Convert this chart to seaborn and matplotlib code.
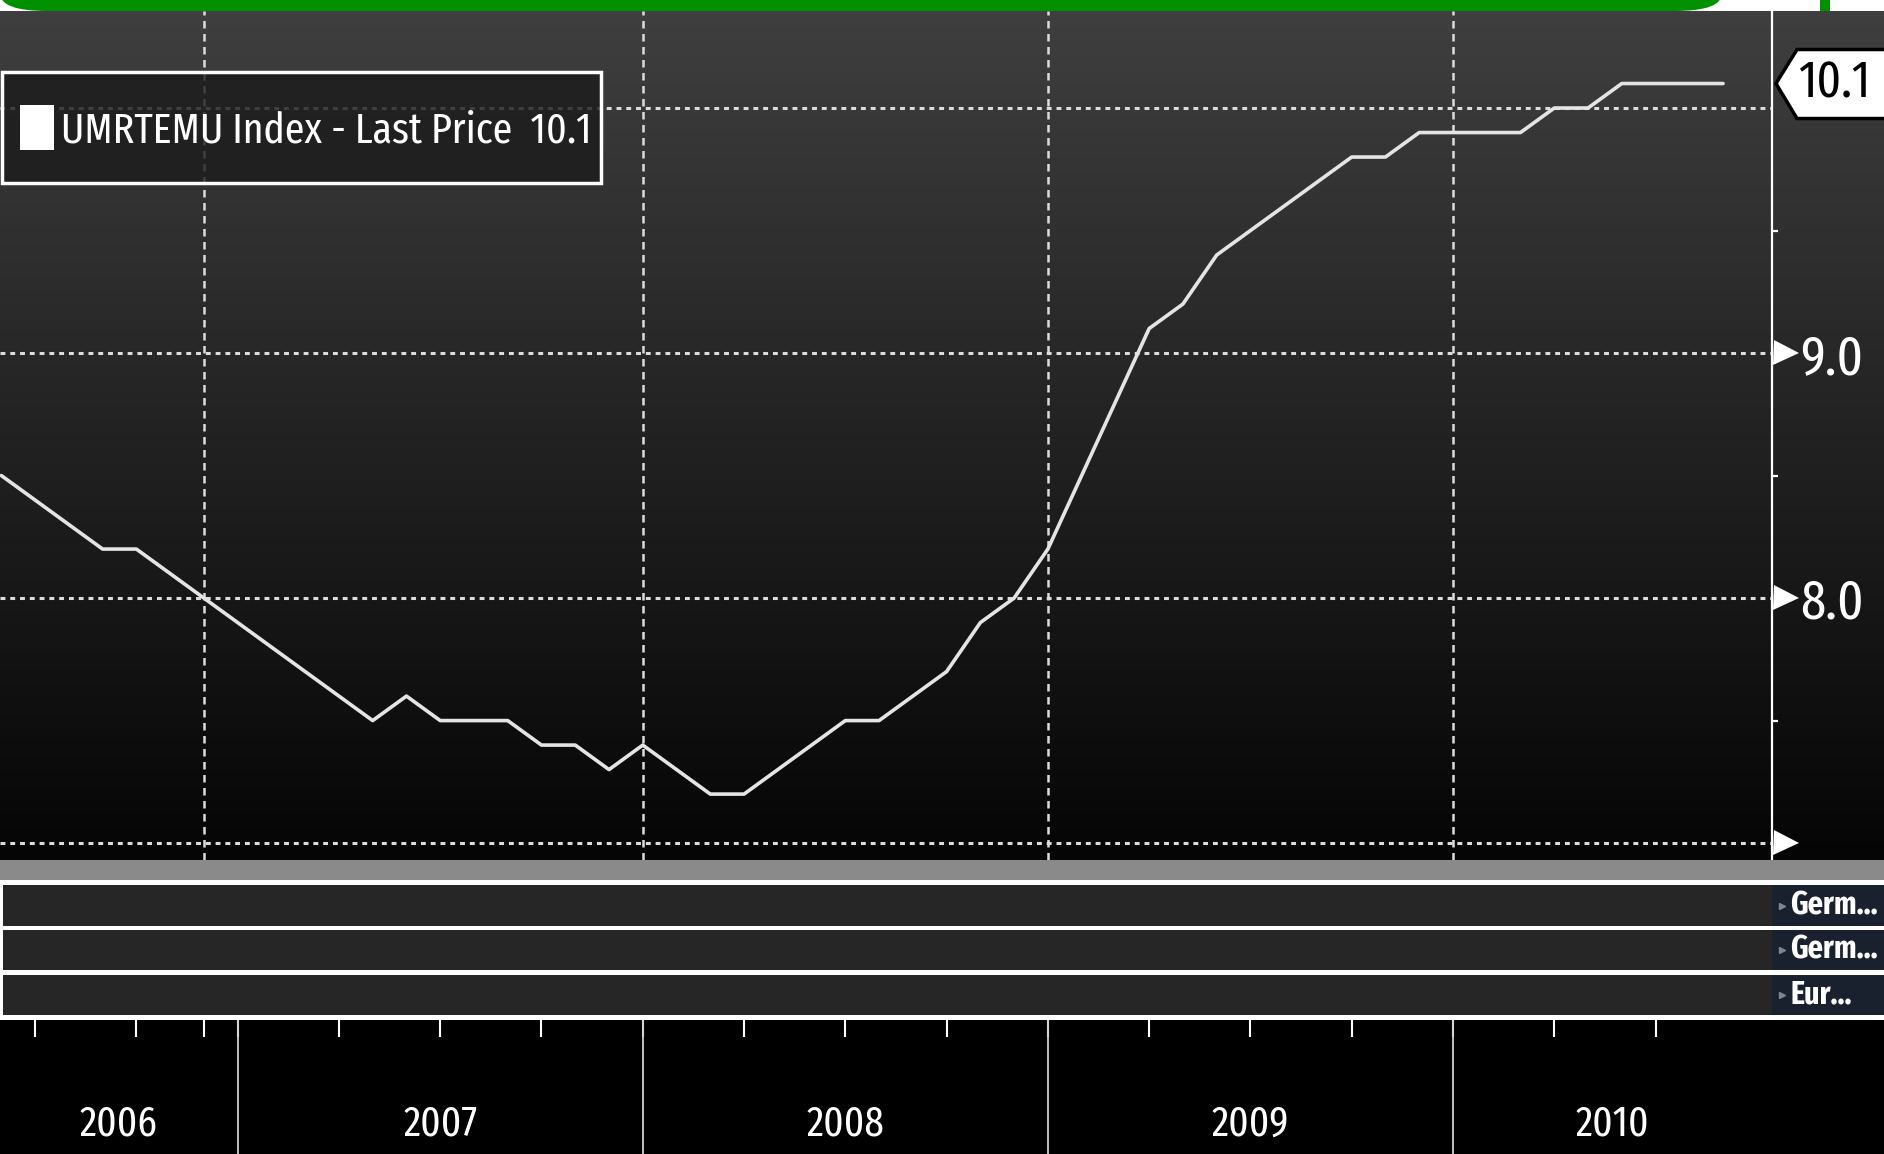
import numpy as np
import pandas as pd
import seaborn as sns
import matplotlib.pyplot as plt
import matplotlib.transforms as mtransforms
from matplotlib import font_manager as fm
from matplotlib.patches import Rectangle, FancyBboxPatch, Polygon, Patch

# monthly euro area unemployment rate (UMRTEMU Index), Jun 2006 - Sep 2010
months = pd.date_range("2006-06", "2010-09", freq="MS").strftime("%Y-%m").tolist()
rate = [8.5, 8.4, 8.3, 8.2, 8.2, 8.1, 8.0,
        7.9, 7.8, 7.7, 7.6, 7.5, 7.6, 7.5, 7.5, 7.5, 7.4, 7.4, 7.3,
        7.4, 7.3, 7.2, 7.2, 7.3, 7.4, 7.5, 7.5, 7.6, 7.7, 7.9, 8.0,
        8.2, 8.5, 8.8, 9.1, 9.2, 9.4, 9.5, 9.6, 9.7, 9.8, 9.8, 9.9,
        9.9, 9.9, 9.9, 10.0, 10.0, 10.1, 10.1, 10.1, 10.1]
years = ["2006", "2007", "2008", "2009", "2010"]
grid_months = ["2006-12", "2008-01", "2009-01", "2010-01"]
y_grid = [7, 8, 9, 10]
y_labels = ["", "8.0", "9.0", ""]
y_minor = [7.5, 8.5, 9.5]
legend_label = "UMRTEMU Index - Last Price  10.1"
panel_labels = ["Germ...", "Germ...", "Eur..."]

W, H = 1884, 1154
sns.set_style("white")
plt.rcParams['font.family'] = ['Liberation Sans', 'DejaVu Sans']

STRETCH = {"ultra-condensed": 50, "extra-condensed": 62, "condensed": 75,
           "semi-condensed": 87, "normal": 100}


# pick the narrowest installed sans face (Bloomberg uses a condensed font)
def narrow_font(bold=False):
    best = None
    for f in fm.fontManager.ttflist:
        if f.style != "normal" or any(k in f.name for k in ("Serif", "Mono", "CJK")):
            continue
        st = f.stretch if isinstance(f.stretch, (int, float)) else STRETCH.get(f.stretch, 100)
        if "Narrow" in f.name:
            st = min(st, 80)
        if "ExtraCondensed" in f.fname:
            st = min(st, 62)
        elif "Condensed" in f.name or "Condensed" in f.fname:
            st = min(st, 75)
        if st >= 100:
            continue
        w = f.weight if isinstance(f.weight, int) else (700 if f.weight == "bold" else 400)
        if (w >= 600) != bold or w < 350:
            continue
        key = (st, abs(w - (700 if bold else 400)))
        if best is None or key < best[0]:
            best = (key, f.fname)
    if best:
        return fm.FontProperties(fname=best[1])
    return fm.FontProperties(family="Liberation Sans", weight="bold" if bold else "normal")


def fp(size, bold=False):
    p = narrow_font(bold).copy()
    p.set_size(size)
    return p


fig = plt.figure(figsize=(W / 100, H / 100), dpi=100, facecolor="black")
renderer = fig.canvas.get_renderer()


def fit(text, width_px, bold=False):
    t = fig.text(0, 0, text, fontproperties=fp(100, bold))
    w = t.get_window_extent(renderer).width
    t.remove()
    return fp(100 * width_px / w, bold)


def px_axes(x0, y0, x1, y1):
    return fig.add_axes([x0 / W, 1 - y1 / H, (x1 - x0) / W, (y1 - y0) / H])


df = pd.DataFrame({"month": months, "rate": rate})
df["idx"] = np.arange(len(df))
xlim = (-0.04, 52.45)
ylim = (6.931, 10.396)

# header strip
fig.patches.append(Rectangle((0, 1 - 11 / H), 1, 11 / H, transform=fig.transFigure,
                             facecolor="white", edgecolor="none"))
fig.patches.append(FancyBboxPatch((0, 1 - 11 / H), 1722 / W, 60 / H,
                                  boxstyle="round,pad=0,rounding_size=0.025",
                                  mutation_aspect=H / W,
                                  transform=fig.transFigure, facecolor="#009000",
                                  edgecolor="none"))
fig.patches.append(Rectangle((1820 / W, 1 - 11 / H), 10 / W, 11 / H, transform=fig.transFigure,
                             facecolor="#009000", edgecolor="none"))

# gradient background
bg = px_axes(0, 11, W, 860)
grad = np.linspace(0x3f, 0x05, 256)[:, None] / 255.0
bg.imshow(np.dstack([grad, grad, grad]), aspect="auto", extent=(0, 1, 0, 1))
bg.set_axis_off()

ax = px_axes(0, 11, 1772, 860)
ax.set_facecolor("none")
sns.lineplot(data=df, x="idx", y="rate", ax=ax, color="#e4e4e4", linewidth=2.6, zorder=5)
ax.set_xlim(*xlim)
ax.set_ylim(*ylim)

for v in y_grid:
    ax.axhline(v, color="#dcdcdc", lw=2.2, linestyle=(0, (1.6, 1.6)), zorder=2)
for m in grid_months:
    ax.axvline(months.index(m), color="#dcdcdc", lw=1.8, linestyle=(0, (3.0, 2.2)), zorder=2)

ax.set_xticks([])
ax.set_xlabel("")
ax.set_ylabel("")
ax.yaxis.tick_right()
ax.set_yticks(y_grid)
ax.set_yticklabels(y_labels, fontproperties=fit("9.0", 63))
ax.set_yticks(y_minor, minor=True)
ax.tick_params(axis="y", which="major", length=0, pad=20, labelcolor="white")
ax.tick_params(axis="y", which="minor", length=4.5, width=1.6, color="white", direction="out")
for s in ["left", "top", "bottom"]:
    ax.spines[s].set_visible(False)
ax.spines["right"].set_color("white")
ax.spines["right"].set_linewidth(1.6)

arrow_tr = mtransforms.blended_transform_factory(ax.transAxes, ax.transData)
ax.plot([1 + 14 / 1772] * 3, y_grid[:3], linestyle="none", marker=">", markersize=18,
        color="white", markeredgewidth=0, transform=arrow_tr, clip_on=False, zorder=6)

# legend: translucent boxed frame with a white swatch
frame = Rectangle((2, H - 183), 599, 111, transform=mtransforms.IdentityTransform(),
                  facecolor=(0.11, 0.11, 0.11, 0.82), edgecolor="white", lw=2.5,
                  clip_on=False, zorder=8)
ax.add_patch(frame)
leg_fp = fit(legend_label, 532)
em = leg_fp.get_size_in_points() * 100 / 72
leg = ax.legend(handles=[Patch(facecolor="white", edgecolor="none")], labels=[legend_label],
                loc="center left", bbox_to_anchor=(20 / W, 1 - 128 / H),
                bbox_transform=fig.transFigure, borderaxespad=0, borderpad=0, frameon=False,
                handlelength=34 / em, handleheight=53 / em, handletextpad=7 / em, prop=leg_fp)
leg.set_zorder(9)
for t in leg.get_texts():
    t.set_color("white")

# last price tag
fig.canvas.draw()
tip_y = ax.transData.transform((0, rate[-1]))[1]
tip_x = 1776
tag = Polygon([(tip_x, tip_y), (1797, tip_y + 34), (W + 5, tip_y + 34), (W + 5, tip_y - 35),
               (1797, tip_y - 35)], closed=True, transform=mtransforms.IdentityTransform(),
              facecolor="white", edgecolor="black", lw=2.5)
fig.patches.append(tag)
fig.text(1798 / W, tip_y / H, f"{rate[-1]:.1f}", color="black", fontproperties=fit("10.1", 72),
         ha="left", va="center")

# study panels
pan = px_axes(0, 860, W, 1022)
pan.set_xlim(0, W)
pan.set_ylim(1022, 860)
pan.set_axis_off()
pan.add_patch(Rectangle((0, 860), W, 20, facecolor="#8a8a8a", edgecolor="none"))
rows = [(885, 926), (930, 970), (975, 1015)]
lab_fp = fit("Germ...", 88, bold=True)
for (r0, r1), lab in zip(rows, panel_labels):
    pan.add_patch(Rectangle((0, r0), 1772, r1 - r0, facecolor="#262626", edgecolor="none"))
    pan.add_patch(Rectangle((1772, r0), W - 1772, r1 - r0, facecolor="#18212d", edgecolor="none"))
    pan.add_patch(Rectangle((0, r0), 3, r1 - r0, facecolor="white", edgecolor="none"))
    pan.plot([1782], [(r0 + r1) / 2], marker=">", markersize=5, color="#7a8796", linestyle="none")
    pan.text(1790, (r0 + r1) / 2, lab, color="white", fontproperties=lab_fp,
             ha="left", va="center")
for y0, y1 in [(880, 885), (926, 930), (970, 975), (1015, 1020)]:
    pan.add_patch(Rectangle((0, y0), W, y1 - y0, facecolor="white", edgecolor="none"))

# time axis
bx = px_axes(0, 1020, 1772, H)
bx.set_facecolor("black")
bx.set_xlim(*xlim)
bx.set_ylim(0, 1)
quarter_idx = [i for i, m in enumerate(months) if int(m[5:]) in (1, 4, 7, 10)]
bx.set_xticks(quarter_idx + [months.index(grid_months[0])])
bx.set_xticklabels([])
bx.set_yticks([])
bx.xaxis.set_ticks_position("top")
bx.tick_params(axis="x", direction="in", length=12, width=1.5, color="white")
for s in bx.spines.values():
    s.set_visible(False)
year_starts = [months.index(f"{y}-01") for y in years[1:]]
for x in year_starts:
    bx.axvline(x, color="#d0d0d0", lw=1.3)
edges = [xlim[0]] + year_starts + [xlim[1]]
year_fp = fit("2006", 78)
for y, a, b in zip(years, edges[:-1], edges[1:]):
    bx.text((a + b) / 2, 0.22, y, color="white", fontproperties=year_fp, ha="center", va="center")

fig.savefig("out.png", dpi=100, facecolor=fig.get_facecolor())
